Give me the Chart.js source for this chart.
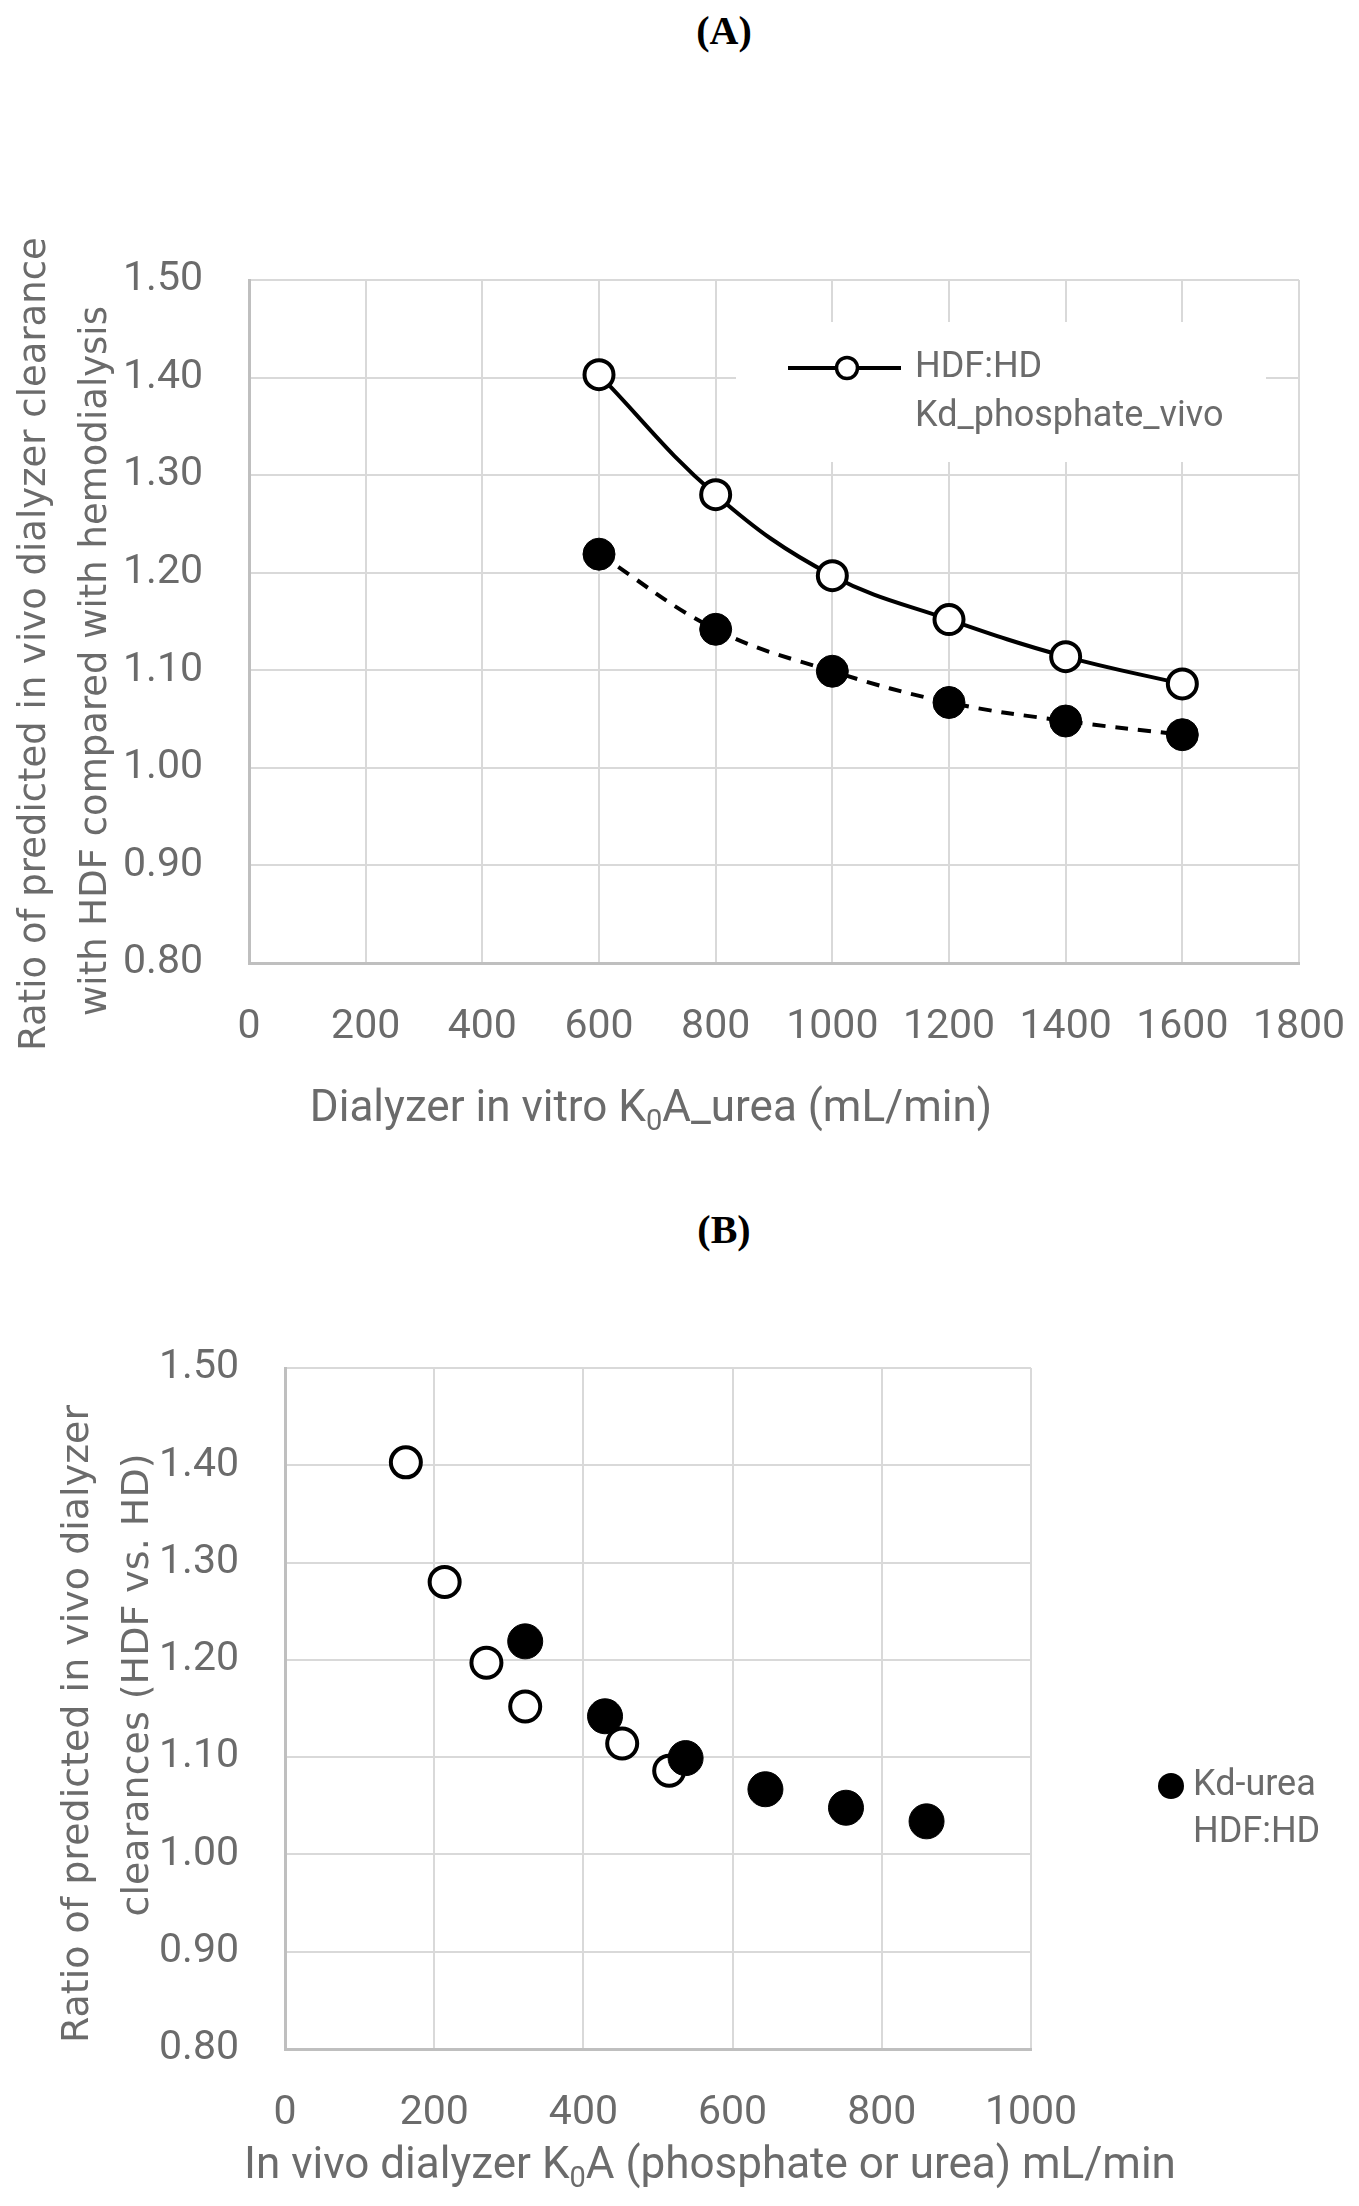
<!DOCTYPE html>
<html>
<head>
<meta charset="utf-8">
<title>HDF vs HD clearance ratios</title>
<script src="https://cdn.jsdelivr.net/npm/chart.js@4.4.0/dist/chart.umd.min.js"></script>
<style>
  html, body { margin: 0; padding: 0; background: #fff; overflow: hidden; }
  .panel { position: absolute; left: 0; width: 1359px; }
  .tag { position: absolute; left: 624px; width: 200px; text-align: center;
         font: bold 40px 'Liberation Serif', 'Times New Roman', serif; line-height: 40px; color: #000; }
</style>
</head>
<body>
<div class="tag" style="top:11px">(A)</div>
<div class="panel" style="top:0; height:1180px"><canvas id="chartA"></canvas></div>
<div class="tag" style="top:1210px">(B)</div>
<div class="panel" style="top:1180px; height:1026px"><canvas id="chartB"></canvas></div>

<script>
// dialyzer in vitro K0A urea (mL/min), panel A
const koaInVitro = [600, 800, 1000, 1200, 1400, 1600];
// ratio HDF:HD of predicted in vivo clearance
const ratioPhosphate = [1.403, 1.280, 1.197, 1.152, 1.114, 1.086];
const ratioUrea = [1.219, 1.142, 1.099, 1.067, 1.048, 1.034];
// in vivo K0A (mL/min), panel B
const koaVivoPhosphate = [162, 214, 270, 322, 452, 515];
const koaVivoUrea = [322, 429, 537, 644, 752, 860];
// ticks
const yTicks = [0.8, 0.9, 1.0, 1.1, 1.2, 1.3, 1.4, 1.5];
const xTicksA = [0, 200, 400, 600, 800, 1000, 1200, 1400, 1600, 1800];
const xTicksB = [0, 200, 400, 600, 800, 1000];

const TXT = '#6b6b6b';
const GRID = '#d9d9d9';
const AXIS = '#bfbfbf';
const TICK_FONT = { family: 'Roboto', size: 41 };

function makeScales(xTicks, yWidth, xHeight) {
    return {
        x: {
            type: 'linear',
            min: xTicks[0],
            max: xTicks[xTicks.length - 1],
            afterBuildTicks: s => { s.ticks = xTicks.map(v => ({ value: v })); },
            // fixed height, and no extra side room for the end labels
            afterFit: s => { s.height = xHeight; s.paddingLeft = 0; s.paddingRight = 0; },
            grid: { color: GRID, lineWidth: 2, drawTicks: false },
            border: { color: AXIS, width: 3 },
            ticks: { color: TXT, font: TICK_FONT, padding: 40, maxRotation: 0, autoSkip: false,
                     callback: v => String(v) }
        },
        y: {
            min: yTicks[0],
            max: yTicks[yTicks.length - 1],
            afterBuildTicks: s => { s.ticks = yTicks.map(v => ({ value: v })); },
            afterFit: s => { s.width = yWidth; },
            grid: { color: GRID, lineWidth: 2, drawTicks: false },
            border: { color: AXIS, width: 3 },
            ticks: { color: TXT, font: TICK_FONT, padding: 46, autoSkip: false,
                     callback: v => v.toFixed(2) }
        }
    };
}

// text with a subscript part: segs = [[text, isSub], ...]
function drawRich(ctx, segs, cx, cy, size) {
    const fontOf = sub => (sub ? Math.round(size * 0.65) : size) + 'px Roboto';
    let total = 0;
    segs.forEach(([t, sub]) => { ctx.font = fontOf(sub); total += ctx.measureText(t).width; });
    let x = cx - total / 2;
    ctx.textAlign = 'left';
    ctx.textBaseline = 'middle';
    segs.forEach(([t, sub]) => {
        ctx.font = fontOf(sub);
        ctx.fillText(t, x, sub ? cy + size * 0.3 : cy);
        x += ctx.measureText(t).width;
    });
}

// rotated title lines, each [text, x, centreY]
function drawRotated(ctx, lines, size) {
    ctx.font = size + 'px "DejaVu Sans"';
    ctx.textAlign = 'center';
    ctx.textBaseline = 'middle';
    lines.forEach(([t, x, cy]) => {
        ctx.save();
        ctx.translate(x, cy);
        ctx.rotate(-Math.PI / 2);
        ctx.fillText(t, 0, 0);
        ctx.restore();
    });
}

// titles and legend for panel A
const decorA = {
    id: 'decorA',
    afterDraw(chart) {
        const ctx = chart.ctx;
        const ds = chart.data.datasets[0];
        ctx.save();
        ctx.fillStyle = TXT;
        drawRotated(ctx, [['Ratio of predicted in vivo dialyzer clearance', 35, 644],
                          ['with HDF compared with hemodialysis', 96, 661]], 37);
        drawRich(ctx, [['Dialyzer in vitro K', false], ['0', true], ['A_urea (mL/min)', false]], 651, 1110, 44);

        // legend box inside the plot
        ctx.fillStyle = '#fff';
        ctx.fillRect(736, 322, 530, 140);
        ctx.strokeStyle = ds.borderColor;
        ctx.lineWidth = 4;
        ctx.beginPath();
        ctx.moveTo(788, 368);
        ctx.lineTo(901, 368);
        ctx.stroke();
        ctx.beginPath();
        ctx.arc(847, 368, 10.5, 0, Math.PI * 2);
        ctx.fillStyle = ds.pointBackgroundColor;
        ctx.fill();
        ctx.lineWidth = 3.5;
        ctx.stroke();
        ctx.fillStyle = TXT;
        ctx.font = '36px Roboto';
        ctx.textAlign = 'left';
        ctx.textBaseline = 'middle';
        ds.label.split(' ').forEach((t, i) => ctx.fillText(t, 915, 368 + i * 49));
        ctx.restore();
    }
};

// titles and legend for panel B
const decorB = {
    id: 'decorB',
    afterDraw(chart) {
        const ctx = chart.ctx;
        const ds = chart.data.datasets[0];
        ctx.save();
        ctx.fillStyle = TXT;
        drawRotated(ctx, [['Ratio of predicted in vivo dialyzer', 78, 544],
                          ['clearances (HDF vs. HD)', 138, 505]], 38);
        drawRich(ctx, [['In vivo dialyzer K', false], ['0', true], ['A (phosphate or urea) mL/min', false]], 710, 987, 44);

        ctx.beginPath();
        ctx.arc(1171, 606, 13, 0, Math.PI * 2);
        ctx.fillStyle = ds.pointBackgroundColor;
        ctx.fill();
        ctx.fillStyle = TXT;
        ctx.font = '36px Roboto';
        ctx.textAlign = 'left';
        ctx.textBaseline = 'middle';
        ds.label.split(' ').forEach((t, i) => ctx.fillText(t, 1193, 606 + i * 47));
        ctx.restore();
    }
};

new Chart(document.getElementById('chartA'), {
    type: 'line',
    data: {
        datasets: [{
            label: 'HDF:HD Kd_phosphate_vivo',
            data: koaInVitro.map((x, i) => ({ x, y: ratioPhosphate[i] })),
            borderColor: '#000',
            borderWidth: 4,
            tension: 0.4,
            fill: false,
            pointRadius: 14.5,
            pointBorderWidth: 4,
            pointBorderColor: '#000',
            pointBackgroundColor: '#fff'
        }, {
            label: 'Kd_urea',
            data: koaInVitro.map((x, i) => ({ x, y: ratioUrea[i] })),
            borderColor: '#000',
            borderWidth: 4,
            borderDash: [13, 10],
            tension: 0.4,
            fill: false,
            pointRadius: 16,
            pointBorderWidth: 1,
            pointBorderColor: '#000',
            pointBackgroundColor: '#000'
        }]
    },
    options: {
        responsive: true,
        maintainAspectRatio: false,
        animation: false,
        events: [],
        layout: { padding: { top: 280, right: 60, bottom: 0, left: 0 } },
        plugins: { legend: { display: false }, tooltip: { enabled: false } },
        scales: makeScales(xTicksA, 249, 217)
    },
    plugins: [decorA]
});

new Chart(document.getElementById('chartB'), {
    type: 'scatter',
    data: {
        datasets: [{
            label: 'Kd-urea HDF:HD',
            data: koaVivoUrea.map((x, i) => ({ x, y: ratioUrea[i] })),
            showLine: false,
            pointRadius: 17.5,
            pointBorderWidth: 1,
            pointBorderColor: '#000',
            pointBackgroundColor: '#000'
        }, {
            label: 'Kd-phosphate HDF:HD',
            data: koaVivoPhosphate.map((x, i) => ({ x, y: ratioPhosphate[i] })),
            showLine: false,
            pointRadius: 15,
            pointBorderWidth: 4,
            pointBorderColor: '#000',
            pointBackgroundColor: '#fff'
        }]
    },
    options: {
        responsive: true,
        maintainAspectRatio: false,
        animation: false,
        events: [],
        layout: { padding: { top: 188, right: 328, bottom: 0, left: 0 } },
        plugins: { legend: { display: false }, tooltip: { enabled: false } },
        scales: makeScales(xTicksB, 285, 157)
    },
    plugins: [decorB]
});
</script>
</body>
</html>
